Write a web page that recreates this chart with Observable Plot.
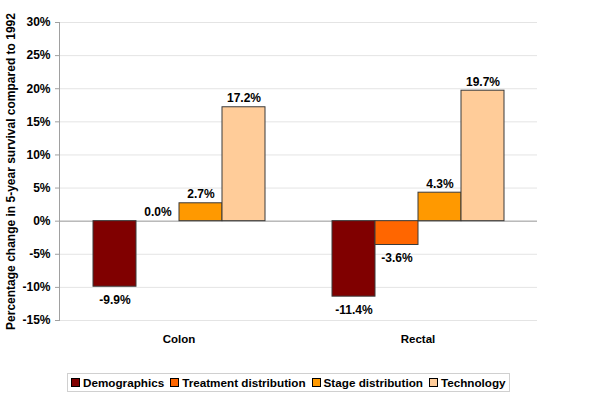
<!DOCTYPE html>
<html>
<head>
<meta charset="utf-8">
<script src="https://cdn.jsdelivr.net/npm/d3@7"></script>
<script src="https://cdn.jsdelivr.net/npm/@observablehq/plot@0.6"></script>
<style>
  html, body { margin: 0; padding: 0; background: #fff; }
  #chart svg { display: block; }
  #legend {
    display: inline-flex; align-items: center; gap: 6px;
    margin: 11px 0 0 67px; padding: 2px 3px;
    border: 1px solid #d0d0d0;
    font: bold 11.7px "Liberation Sans", Arial, sans-serif; color: #000;
  }
  #legend .item { display: inline-flex; align-items: center; }
  #legend .sw { width: 7px; height: 7px; border: 1px solid #000; margin-right: 3px; }
</style>
</head>
<body>
<div id="chart"></div>
<div id="legend"></div>
<script>
const groups = ["Colon", "Rectal"];
const series = ["Demographics", "Treatment distribution", "Stage distribution", "Technology"];
const colonValues = [-9.9, 0.0, 2.7, 17.2];
const rectalValues = [-11.4, -3.6, 4.3, 19.7];
const colors = ["#800000", "#FF6600", "#FF9900", "#FFCC99"];
const yTicks = [-15, -10, -5, 0, 5, 10, 15, 20, 25, 30];
const yLabel = "Percentage change in 5-year survival compared to 1992";

const valuesByGroup = [colonValues, rectalValues];
const data = groups.flatMap((g, gi) =>
  series.map((s, si) => ({ group: g, series: s, value: valuesByGroup[gi][si] }))
);
const fmt = v => v.toFixed(1) + "%";

const chart = Plot.plot({
  width: 600,
  height: 362,
  marginLeft: 59,
  marginRight: 63,
  marginTop: 22,
  marginBottom: 42,
  style: { fontFamily: "'Liberation Sans', Arial, sans-serif", fontSize: "12px", fontWeight: "bold", color: "#000", background: "#fff" },
  fx: { domain: groups, padding: 0, label: null },
  x: { domain: series, paddingInner: 0, paddingOuter: 0.716, axis: null },
  y: { domain: [-15, 30], label: yLabel },
  color: { domain: series, range: colors },
  marks: [
    Plot.gridY(yTicks, { stroke: "#e4e4e4", strokeOpacity: 1 }),
    Plot.ruleY([0], { stroke: "#a0a0a0" }),
    Plot.frame({ anchor: "left", facetAnchor: "left", stroke: "#a0a0a0" }),
    Plot.axisY(yTicks, {
      tickSize: 4, tickPadding: 5, stroke: "#a0a0a0", fill: "#000", fontSize: 12,
      tickFormat: d => d + "%", label: yLabel, labelAnchor: "center",
      labelOffset: 53, labelArrow: "none"
    }),
    Plot.axisFx({ anchor: "bottom", tickSize: 0, tickPadding: 14, label: null, fontSize: 11.5 }),
    Plot.barY(data, { fx: "group", x: "series", y: "value", fill: "series", stroke: "#3a3a3a", strokeWidth: 1 }),
    Plot.text(data.filter(d => d.value >= 0), {
      fx: "group", x: "series", y: "value", text: d => fmt(d.value),
      dy: -9, fontWeight: "bold", fontSize: 12, fill: "#000"
    }),
    Plot.text(data.filter(d => d.value < 0), {
      fx: "group", x: "series", y: "value", text: d => fmt(d.value),
      dy: 13, fontWeight: "bold", fontSize: 12, fill: "#000"
    })
  ]
});
document.getElementById("chart").appendChild(chart);

const legend = document.getElementById("legend");
series.forEach((s, i) => {
  const item = document.createElement("span");
  item.className = "item";
  const sw = document.createElement("span");
  sw.className = "sw";
  sw.style.background = colors[i];
  item.appendChild(sw);
  item.appendChild(document.createTextNode(s));
  legend.appendChild(item);
});
</script>
</body>
</html>
